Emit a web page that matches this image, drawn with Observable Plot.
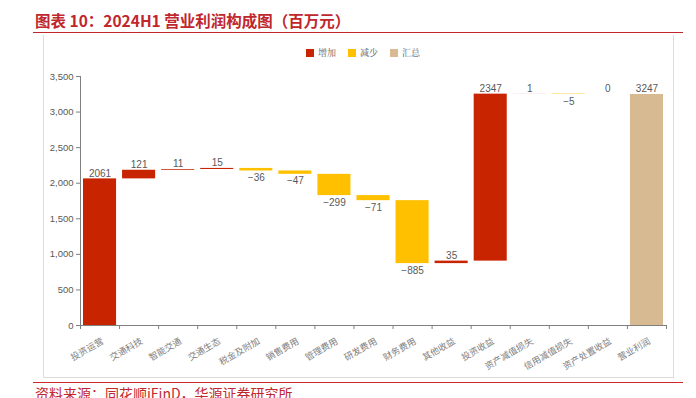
<!DOCTYPE html>
<html>
<head>
<meta charset="utf-8">
<script src="https://cdn.jsdelivr.net/npm/d3@7"></script>
<script src="https://cdn.jsdelivr.net/npm/@observablehq/plot@0.6"></script>
<style>
  html, body { margin: 0; padding: 0; background: #fff; }
  #page { position: relative; width: 696px; height: 398px; overflow: hidden; background: #fff; }
  #title { position: absolute; left: 35px; top: 10px; font-family: "Noto Sans CJK SC", sans-serif; font-weight: bold; font-size: 15.5px; color: #C0272D; white-space: nowrap; line-height: 20px; }
  #titleLine { position: absolute; left: 33px; width: 650px; top: 32px; height: 0; border-top: 1.5px solid #C0272D; }
  #box { position: absolute; left: 43px; top: 35px; width: 629px; height: 342px; border: 1px solid #DCDCDC; border-top: none; }
  #chart { position: absolute; left: 0; top: 36px; }
  #legend { position: absolute; left: 306px; top: 47px; display: flex; gap: 12px; font-family: "Noto Serif CJK SC", "Noto Sans CJK SC", serif; font-size: 9px; color: #595959; line-height: 12px; }
  #legend .item { display: flex; align-items: center; gap: 4px; }
  #legend .sw { width: 8px; height: 8px; display: inline-block; }
  #footLine { position: absolute; left: 33px; width: 650px; top: 382px; height: 0; border-top: 1.5px solid #D0272D; }
  #footer { position: absolute; left: 35px; top: 384px; font-family: "Noto Sans CJK SC", sans-serif; font-size: 14px; color: #C0272D; white-space: nowrap; line-height: 18px; }
</style>
</head>
<body>
<div id="page">
  <div id="title">图表 10：2024H1 营业利润构成图（百万元）</div>
  <div id="titleLine"></div>
  <div id="box"></div>
  <div id="chart"></div>
  <div id="legend"></div>
  <div id="footLine"></div>
  <div id="footer">资料来源：同花顺iFinD，华源证券研究所</div>
</div>
<script>
const categories = ["投资运营","交通科技","智能交通","交通生态","税金及附加","销售费用","管理费用","研发费用","财务费用","其他收益","投资收益","资产减值损失","信用减值损失","资产处置收益","营业利润"];
const values = [2061, 121, 11, 15, -36, -47, -299, -71, -885, 35, 2347, 1, -5, 0, 3247];
const types = ["增加","增加","增加","增加","减少","减少","减少","减少","减少","增加","增加","增加","减少","增加","汇总"];
const legendNames = ["增加","减少","汇总"];
const legendColors = ["#C82400","#FFC000","#D8BA92"];
const yTicks = [0, 500, 1000, 1500, 2000, 2500, 3000, 3500];

let running = 0;
const rows = categories.map((name, i) => {
  const v = values[i];
  let start, end;
  if (types[i] === "汇总") { start = 0; end = v; }
  else { start = running; end = running + v; running = end; }
  return { i, name, v, type: types[i], start, end, top: Math.max(start, end), bottom: Math.min(start, end) };
});

const chart = Plot.plot({
  width: 696,
  height: 342,
  marginTop: 40,
  marginBottom: 53,
  marginLeft: 80,
  marginRight: 30,
  style: { background: "transparent", fontFamily: "'Liberation Sans', Arial, sans-serif", fontSize: "9.5px", color: "#595959" },
  x: { type: "linear", domain: [0, categories.length], axis: null, label: null },
  y: { domain: [0, 3500], axis: null, label: null },
  color: { domain: legendNames, range: legendColors },
  marks: [
    Plot.axisY({ ticks: yTicks, tickFormat: d3.format(","), tickSize: 4, tickPadding: 3, stroke: "#7f7f7f", fill: "#595959", fontSize: 9.5, label: null }),
    Plot.axisX({ ticks: d3.range(0, categories.length + 1), tickFormat: () => "", tickSize: 4, stroke: "#7f7f7f", label: null }),
    Plot.rect(rows, { x1: "i", x2: d => d.i + 1, y1: "start", y2: "end", fill: "type", insetLeft: 3, insetRight: 3 }),
    Plot.ruleX([0], { stroke: "#7f7f7f" }),
    Plot.ruleY([0], { stroke: "#7f7f7f" }),
    Plot.text(rows.filter(d => d.v >= 0), { x: d => d.i + 0.5, y: "top", text: d => String(d.v), lineAnchor: "bottom", dy: -2, fill: "#595959", fontSize: 10, fontFamily: "'Liberation Sans Narrow', 'Liberation Sans', sans-serif" }),
    Plot.text(rows.filter(d => d.v < 0), { x: d => d.i + 0.5, y: "bottom", text: d => String(d.v).replace("-", "−"), lineAnchor: "top", dy: 3, fill: "#595959", fontSize: 10, fontFamily: "'Liberation Sans Narrow', 'Liberation Sans', sans-serif" }),
    Plot.text(rows, { x: d => d.i + 0.5, y: () => 0, text: "name", rotate: -30, textAnchor: "end", lineAnchor: "top", dx: 1, dy: 12, fill: "#808080", fontSize: 9, fontFamily: "'Noto Sans CJK SC', sans-serif" })
  ]
});
document.getElementById("chart").appendChild(chart);

const legend = document.getElementById("legend");
legendNames.forEach((n, k) => {
  const item = document.createElement("div");
  item.className = "item";
  const sw = document.createElement("span");
  sw.className = "sw";
  sw.style.background = legendColors[k];
  const t = document.createElement("span");
  t.textContent = n;
  item.appendChild(sw);
  item.appendChild(t);
  legend.appendChild(item);
});
</script>
</body>
</html>
